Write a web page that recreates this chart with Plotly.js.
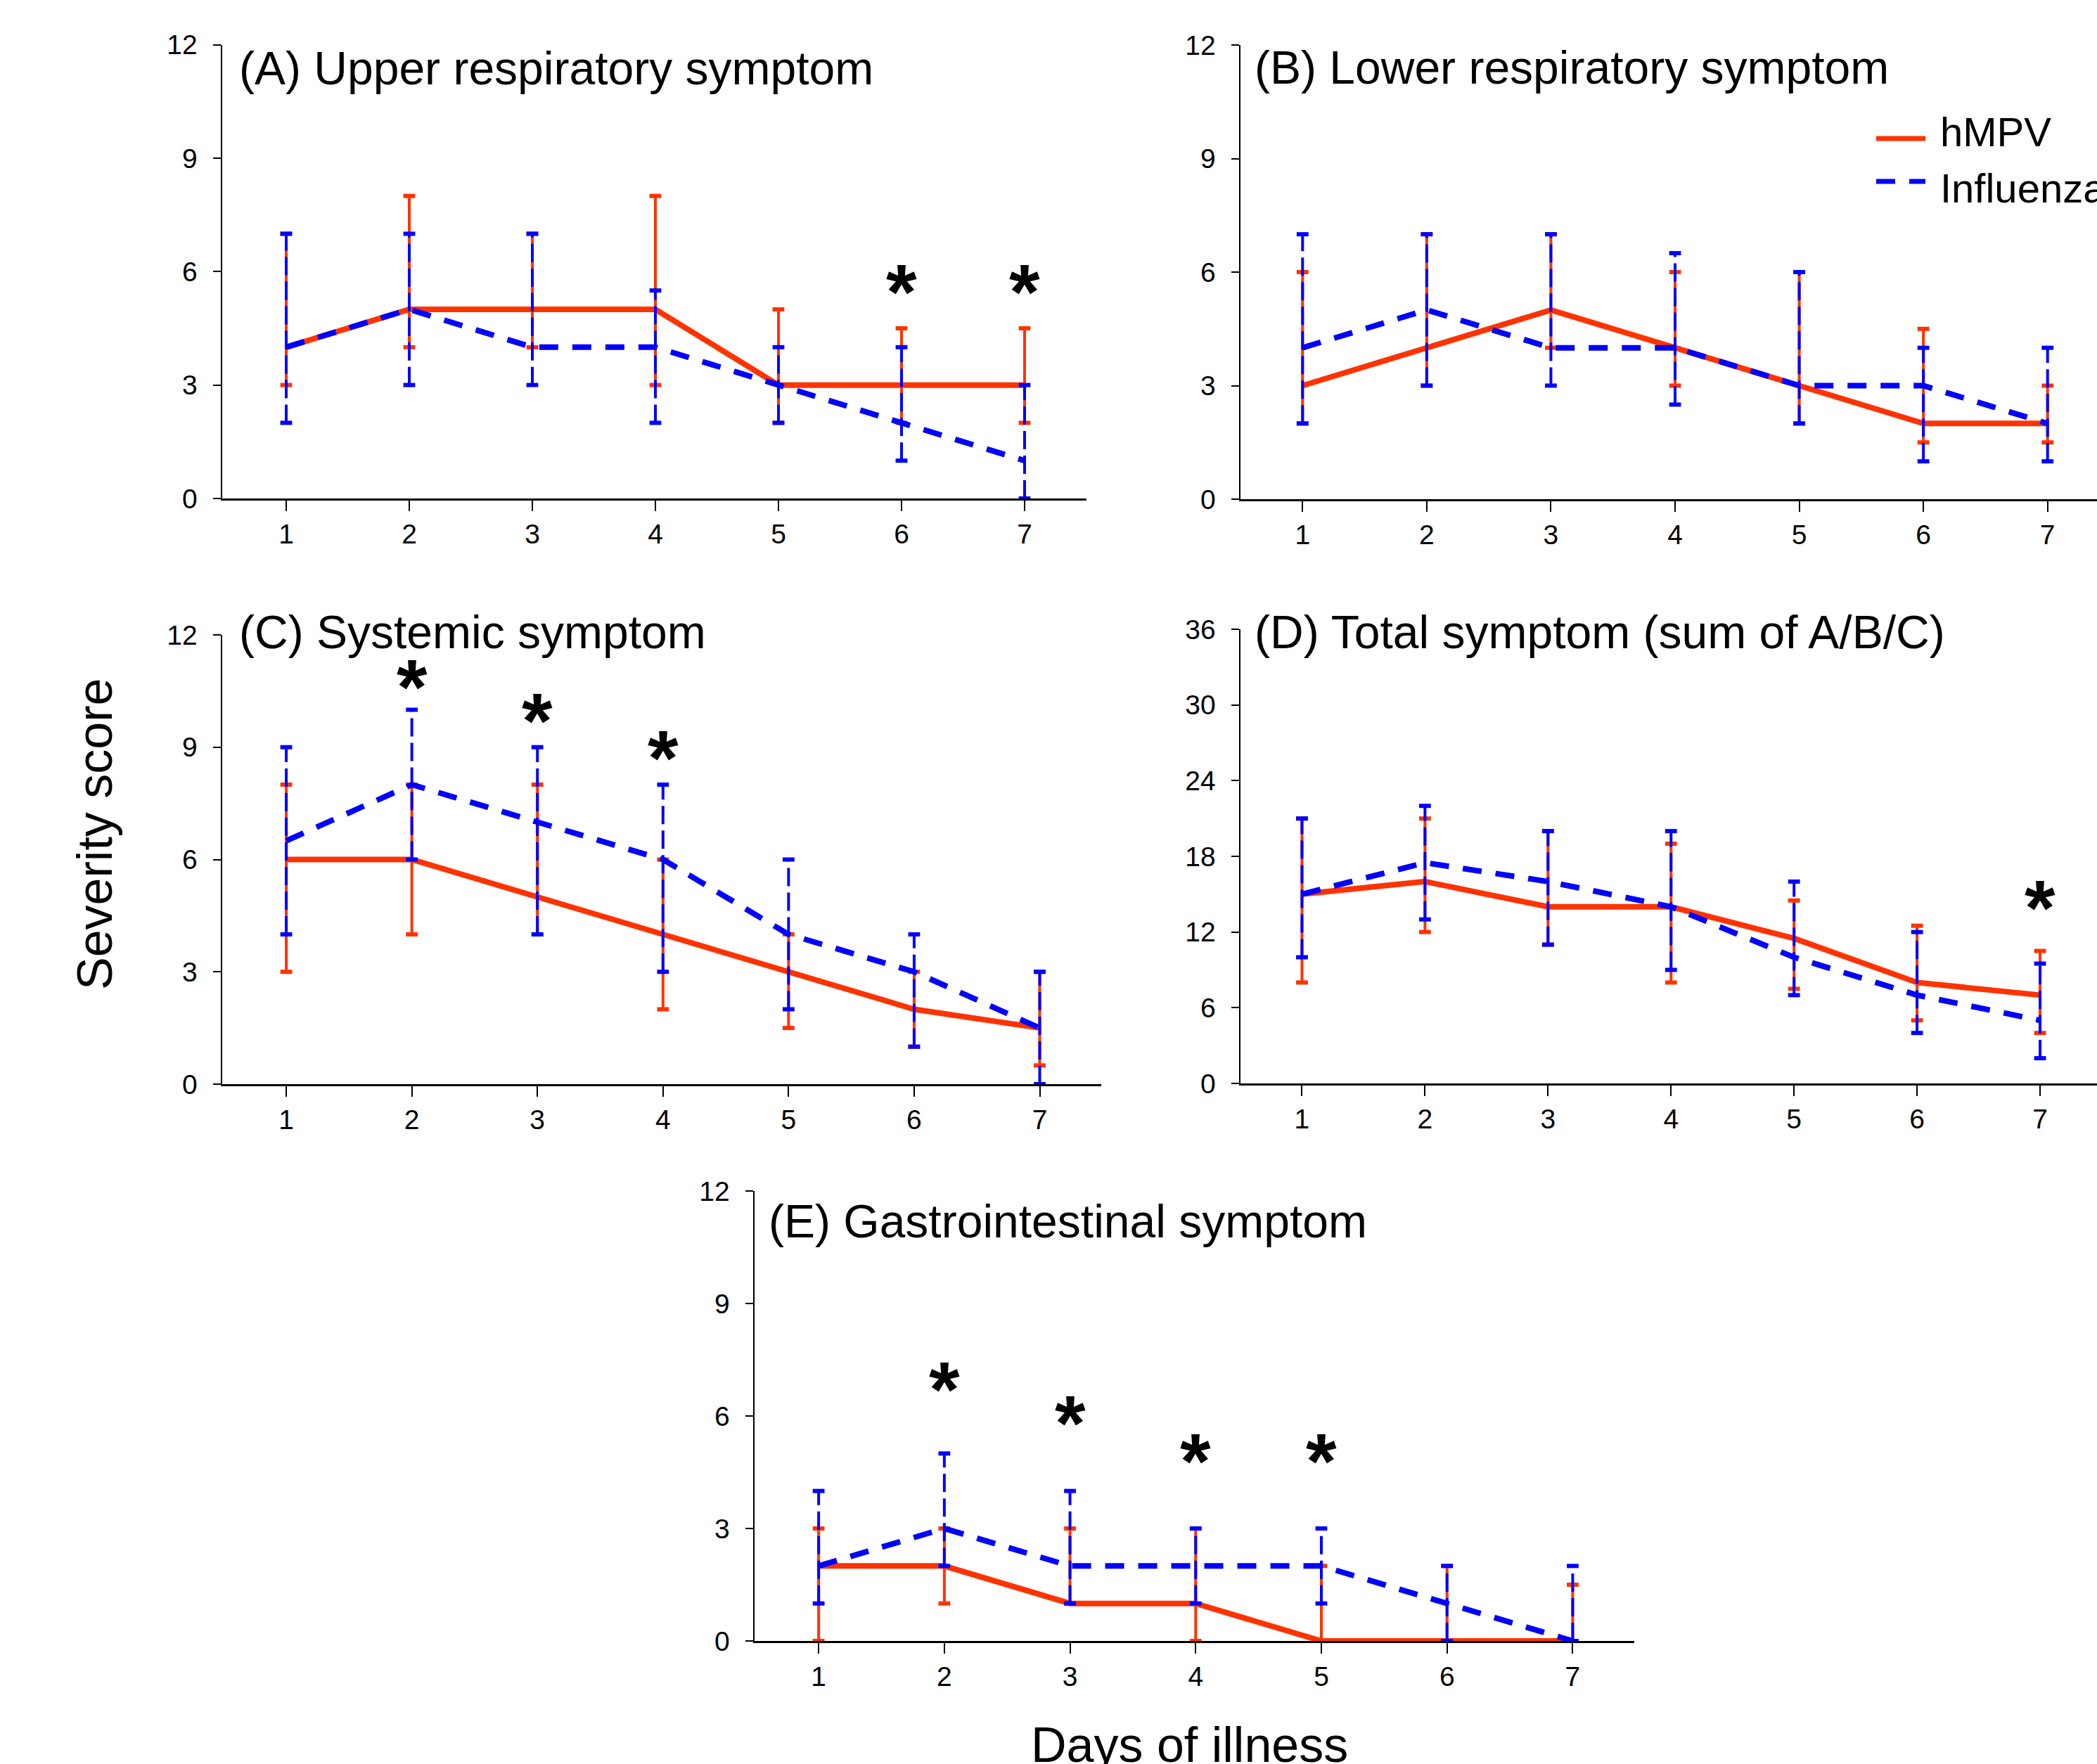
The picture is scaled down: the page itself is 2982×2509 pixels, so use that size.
<!DOCTYPE html>
<html>
<head>
<meta charset="utf-8">
<script src="https://cdn.plot.ly/plotly-3.0.1.min.js"></script>
<style>
html, body { margin:0; padding:0; overflow:hidden; background:#fff; }
#chart { width:3050px; height:2560px; }
</style>
</head>
<body>
<div id="chart"></div>
<script>
// ---------- data ----------
const days = [1, 2, 3, 4, 5, 6, 7];

// (A) Upper respiratory symptom
const upperHmpv   = [4, 5, 5, 5, 3, 3, 3];
const upperHmpvLo = [3, 4, 4, 3, 2, 2, 2];
const upperHmpvHi = [7, 8, 7, 8, 5, 4.5, 4.5];
const upperFlu    = [4, 5, 4, 4, 3, 2, 1];
const upperFluLo  = [2, 3, 3, 2, 2, 1, 0];
const upperFluHi  = [7, 7, 7, 5.5, 4, 4, 3];

// (B) Lower respiratory symptom
const lowerHmpv   = [3, 4, 5, 4, 3, 2, 2];
const lowerHmpvLo = [2, 3, 4, 3, 2, 1.5, 1.5];
const lowerHmpvHi = [6, 7, 7, 6, 6, 4.5, 3];
const lowerFlu    = [4, 5, 4, 4, 3, 3, 2];
const lowerFluLo  = [2, 3, 3, 2.5, 2, 1, 1];
const lowerFluHi  = [7, 7, 7, 6.5, 6, 4, 4];

// (C) Systemic symptom
const sysHmpv   = [6, 6, 5, 4, 3, 2, 1.5];
const sysHmpvLo = [3, 4, 4, 2, 1.5, 1, 0.5];
const sysHmpvHi = [8, 8, 8, 6, 4, 3, 3];
const sysFlu    = [6.5, 8, 7, 6, 4, 3, 1.5];
const sysFluLo  = [4, 6, 4, 3, 2, 1, 0];
const sysFluHi  = [9, 10, 9, 8, 6, 4, 3];

// (D) Total symptom
const totHmpv   = [15, 16, 14, 14, 11.5, 8, 7];
const totHmpvLo = [8, 12, 11, 8, 7.5, 5, 4];
const totHmpvHi = [21, 21, 20, 19, 14.5, 12.5, 10.5];
const totFlu    = [15, 17.5, 16, 14, 10, 7, 5];
const totFluLo  = [10, 13, 11, 9, 7, 4, 2];
const totFluHi  = [21, 22, 20, 20, 16, 12, 9.5];

// (E) Gastrointestinal symptom
const giHmpv   = [2, 2, 1, 1, 0, 0, 0];
const giHmpvLo = [0, 1, 1, 0, 0, 0, 0];
const giHmpvHi = [3, 3, 3, 3, 2, 2, 1.5];
const giFlu    = [2, 3, 2, 2, 2, 1, 0];
const giFluLo  = [1, 2, 1, 1, 1, 0, 0];
const giFluHi  = [4, 5, 4, 3, 3, 2, 2];

// significance markers (day, y position)
const starA = {days: [6, 7], y: [5.75, 5.75]};
const starC = {days: [2, 3, 4], y: [10.9, 10.0, 9.0]};
const starD = {days: [7], y: [14.8]};
const starE = {days: [2, 3, 4, 5], y: [7.0, 6.1, 5.1, 5.1]};

const panelTitles = ['(A) Upper respiratory symptom', '(B) Lower respiratory symptom',
  '(C) Systemic symptom', '(D) Total symptom (sum of A/B/C)', '(E) Gastrointestinal symptom'];
const seriesNames = ['hMPV', 'Influenza'];
const yTicksSmall = [0, 3, 6, 9, 12];
const yTicksTotal = [0, 6, 12, 18, 24, 30, 36];

// ---------- styling ----------
const W = 3050, H = 2560;
const RED = '#FF3300', BLUE = '#0000FF';
const FONT = 'Liberation Sans, Arial, Helvetica, sans-serif';
const px = p => p / W;
const py = p => 1 - p / H;

function errTrace(xa, ya, lo, hi, color, dash) {
  const xs = [], ys = [];
  days.forEach((d, i) => { xs.push(d, d, null); ys.push(lo[i], hi[i], null); });
  return {type: 'scatter', mode: 'lines+markers', x: xs, y: ys, xaxis: xa, yaxis: ya,
    line: {color: color, width: 4, dash: dash},
    marker: {symbol: 'line-ew', size: 12, color: color, line: {color: color, width: 6}},
    showlegend: false, hoverinfo: 'skip', cliponaxis: false};
}
function lineTrace(xa, ya, vals, color, dash, name) {
  return {type: 'scatter', mode: 'lines', x: days, y: vals, xaxis: xa, yaxis: ya, name: name,
    line: {color: color, width: 8, dash: dash}, showlegend: false};
}
const FLU_DASH = '27px,20px';
const FLU_ERR_DASH = '26px,9px';

const panels = [
  ['x', 'y', upperHmpv, upperHmpvLo, upperHmpvHi, upperFlu, upperFluLo, upperFluHi],
  ['x2', 'y2', lowerHmpv, lowerHmpvLo, lowerHmpvHi, lowerFlu, lowerFluLo, lowerFluHi],
  ['x3', 'y3', sysHmpv, sysHmpvLo, sysHmpvHi, sysFlu, sysFluLo, sysFluHi],
  ['x4', 'y4', totHmpv, totHmpvLo, totHmpvHi, totFlu, totFluLo, totFluHi],
  ['x5', 'y5', giHmpv, giHmpvLo, giHmpvHi, giFlu, giFluLo, giFluHi]
];
const traces = [];
panels.forEach(p => {
  traces.push(errTrace(p[0], p[1], p[3], p[4], RED, 'solid'));
  traces.push(lineTrace(p[0], p[1], p[2], RED, 'solid', seriesNames[0]));
  traces.push(errTrace(p[0], p[1], p[6], p[7], BLUE, FLU_ERR_DASH));
  traces.push(lineTrace(p[0], p[1], p[5], BLUE, FLU_DASH, seriesNames[1]));
});

function xax(d0, d1, r0, r1, anchor) {
  return {domain: [px(d0), px(d1)], range: [r0, r1], anchor: anchor, tickvals: days,
    ticks: 'outside', ticklen: 15, tickwidth: 2, tickcolor: '#000', showline: true,
    linecolor: '#000', linewidth: 2.5, showgrid: false, zeroline: false,
    tickfont: {family: FONT, size: 39, color: '#000'}, fixedrange: true};
}
function yax(top, bottom, rmax, tv, anchor) {
  return {domain: [py(bottom), py(top)], range: [0, rmax], anchor: anchor, tickvals: tv,
    ticks: 'outside', ticklen: 11, tickwidth: 2, tickcolor: '#000', showline: true,
    linecolor: '#000', linewidth: 2.5, showgrid: false, zeroline: false,
    tickfont: {family: FONT, size: 39, color: '#000'}, ticklabelstandoff: 14, fixedrange: true};
}

const annotations = [];
function title(text, xLeft, baseline) {
  const fs = 66;
  annotations.push({text: text, xref: 'paper', yref: 'paper', x: px(xLeft), y: py(baseline - 0.35 * fs),
    xanchor: 'left', yanchor: 'middle', showarrow: false, font: {family: FONT, size: fs, color: '#000'}});
}
title(panelTitles[0], 338, 120);
title(panelTitles[1], 1782, 119);
title(panelTitles[2], 338, 922);
title(panelTitles[3], 1782, 922);
title(panelTitles[4], 1091, 1760);

function stars(s, xa, ya) {
  s.days.forEach((d, i) => annotations.push({text: '*', x: d, y: s.y[i], xref: xa, yref: ya,
    xanchor: 'center', yanchor: 'middle', yshift: -16, showarrow: false,
    font: {family: FONT, size: 112, color: '#000', weight: 'bold'}}));
}
stars(starA, 'x', 'y');
stars(starC, 'x3', 'y3');
stars(starD, 'x4', 'y4');
stars(starE, 'x5', 'y5');

// axis titles
annotations.push({text: 'Severity score', xref: 'paper', yref: 'paper', x: px(135), y: py(1187),
  xanchor: 'center', yanchor: 'middle', textangle: -90, showarrow: false,
  font: {family: FONT, size: 70, color: '#000'}});
annotations.push({text: 'Days of illness', xref: 'paper', yref: 'paper', x: px(1691), y: py(2506 - 0.35 * 70),
  xanchor: 'center', yanchor: 'middle', showarrow: false,
  font: {family: FONT, size: 70, color: '#000'}});

// legend (drawn in figure coordinates)
const legFs = 58;
annotations.push({text: seriesNames[0], xref: 'paper', yref: 'paper', x: px(2757), y: py(208 - 0.35 * legFs),
  xanchor: 'left', yanchor: 'middle', showarrow: false, font: {family: FONT, size: legFs, color: '#000'}});
annotations.push({text: seriesNames[1], xref: 'paper', yref: 'paper', x: px(2757), y: py(288 - 0.35 * legFs),
  xanchor: 'left', yanchor: 'middle', showarrow: false, font: {family: FONT, size: legFs, color: '#000'}});
const shapes = [
  {type: 'line', xref: 'paper', yref: 'paper', x0: px(2668), x1: px(2738), y0: py(197), y1: py(197),
   line: {color: RED, width: 7}},
  {type: 'line', xref: 'paper', yref: 'paper', x0: px(2668), x1: px(2738), y0: py(258), y1: py(258),
   line: {color: BLUE, width: 7, dash: '27px,20px'}}
];

const layout = {
  width: W, height: H, margin: {l: 0, r: 0, t: 0, b: 0},
  paper_bgcolor: '#fff', plot_bgcolor: 'rgba(0,0,0,0)', showlegend: false,
  font: {family: FONT, color: '#000'},
  xaxis: xax(316, 1544.5, 0.48, 7.5, 'y'),
  yaxis: yax(63.5, 709, 12, yTicksSmall, 'x'),
  xaxis2: xax(1764, 3000, 0.5, 7.5, 'y2'),
  yaxis2: yax(64, 710, 12, yTicksSmall, 'x2'),
  xaxis3: xax(316, 1566, 0.49, 7.49, 'y3'),
  yaxis3: yax(903, 1542, 12, yTicksSmall, 'x3'),
  xaxis4: xax(1764, 2988.5, 0.5, 7.5, 'y4'),
  yaxis4: yax(895, 1541, 36, yTicksTotal, 'x4'),
  xaxis5: xax(1073, 2324, 0.49, 7.49, 'y5'),
  yaxis5: yax(1694, 2334, 12, yTicksSmall, 'x5'),
  annotations: annotations, shapes: shapes
};
Plotly.newPlot('chart', traces, layout, {staticPlot: true, displayModeBar: false});
</script>
</body>
</html>
